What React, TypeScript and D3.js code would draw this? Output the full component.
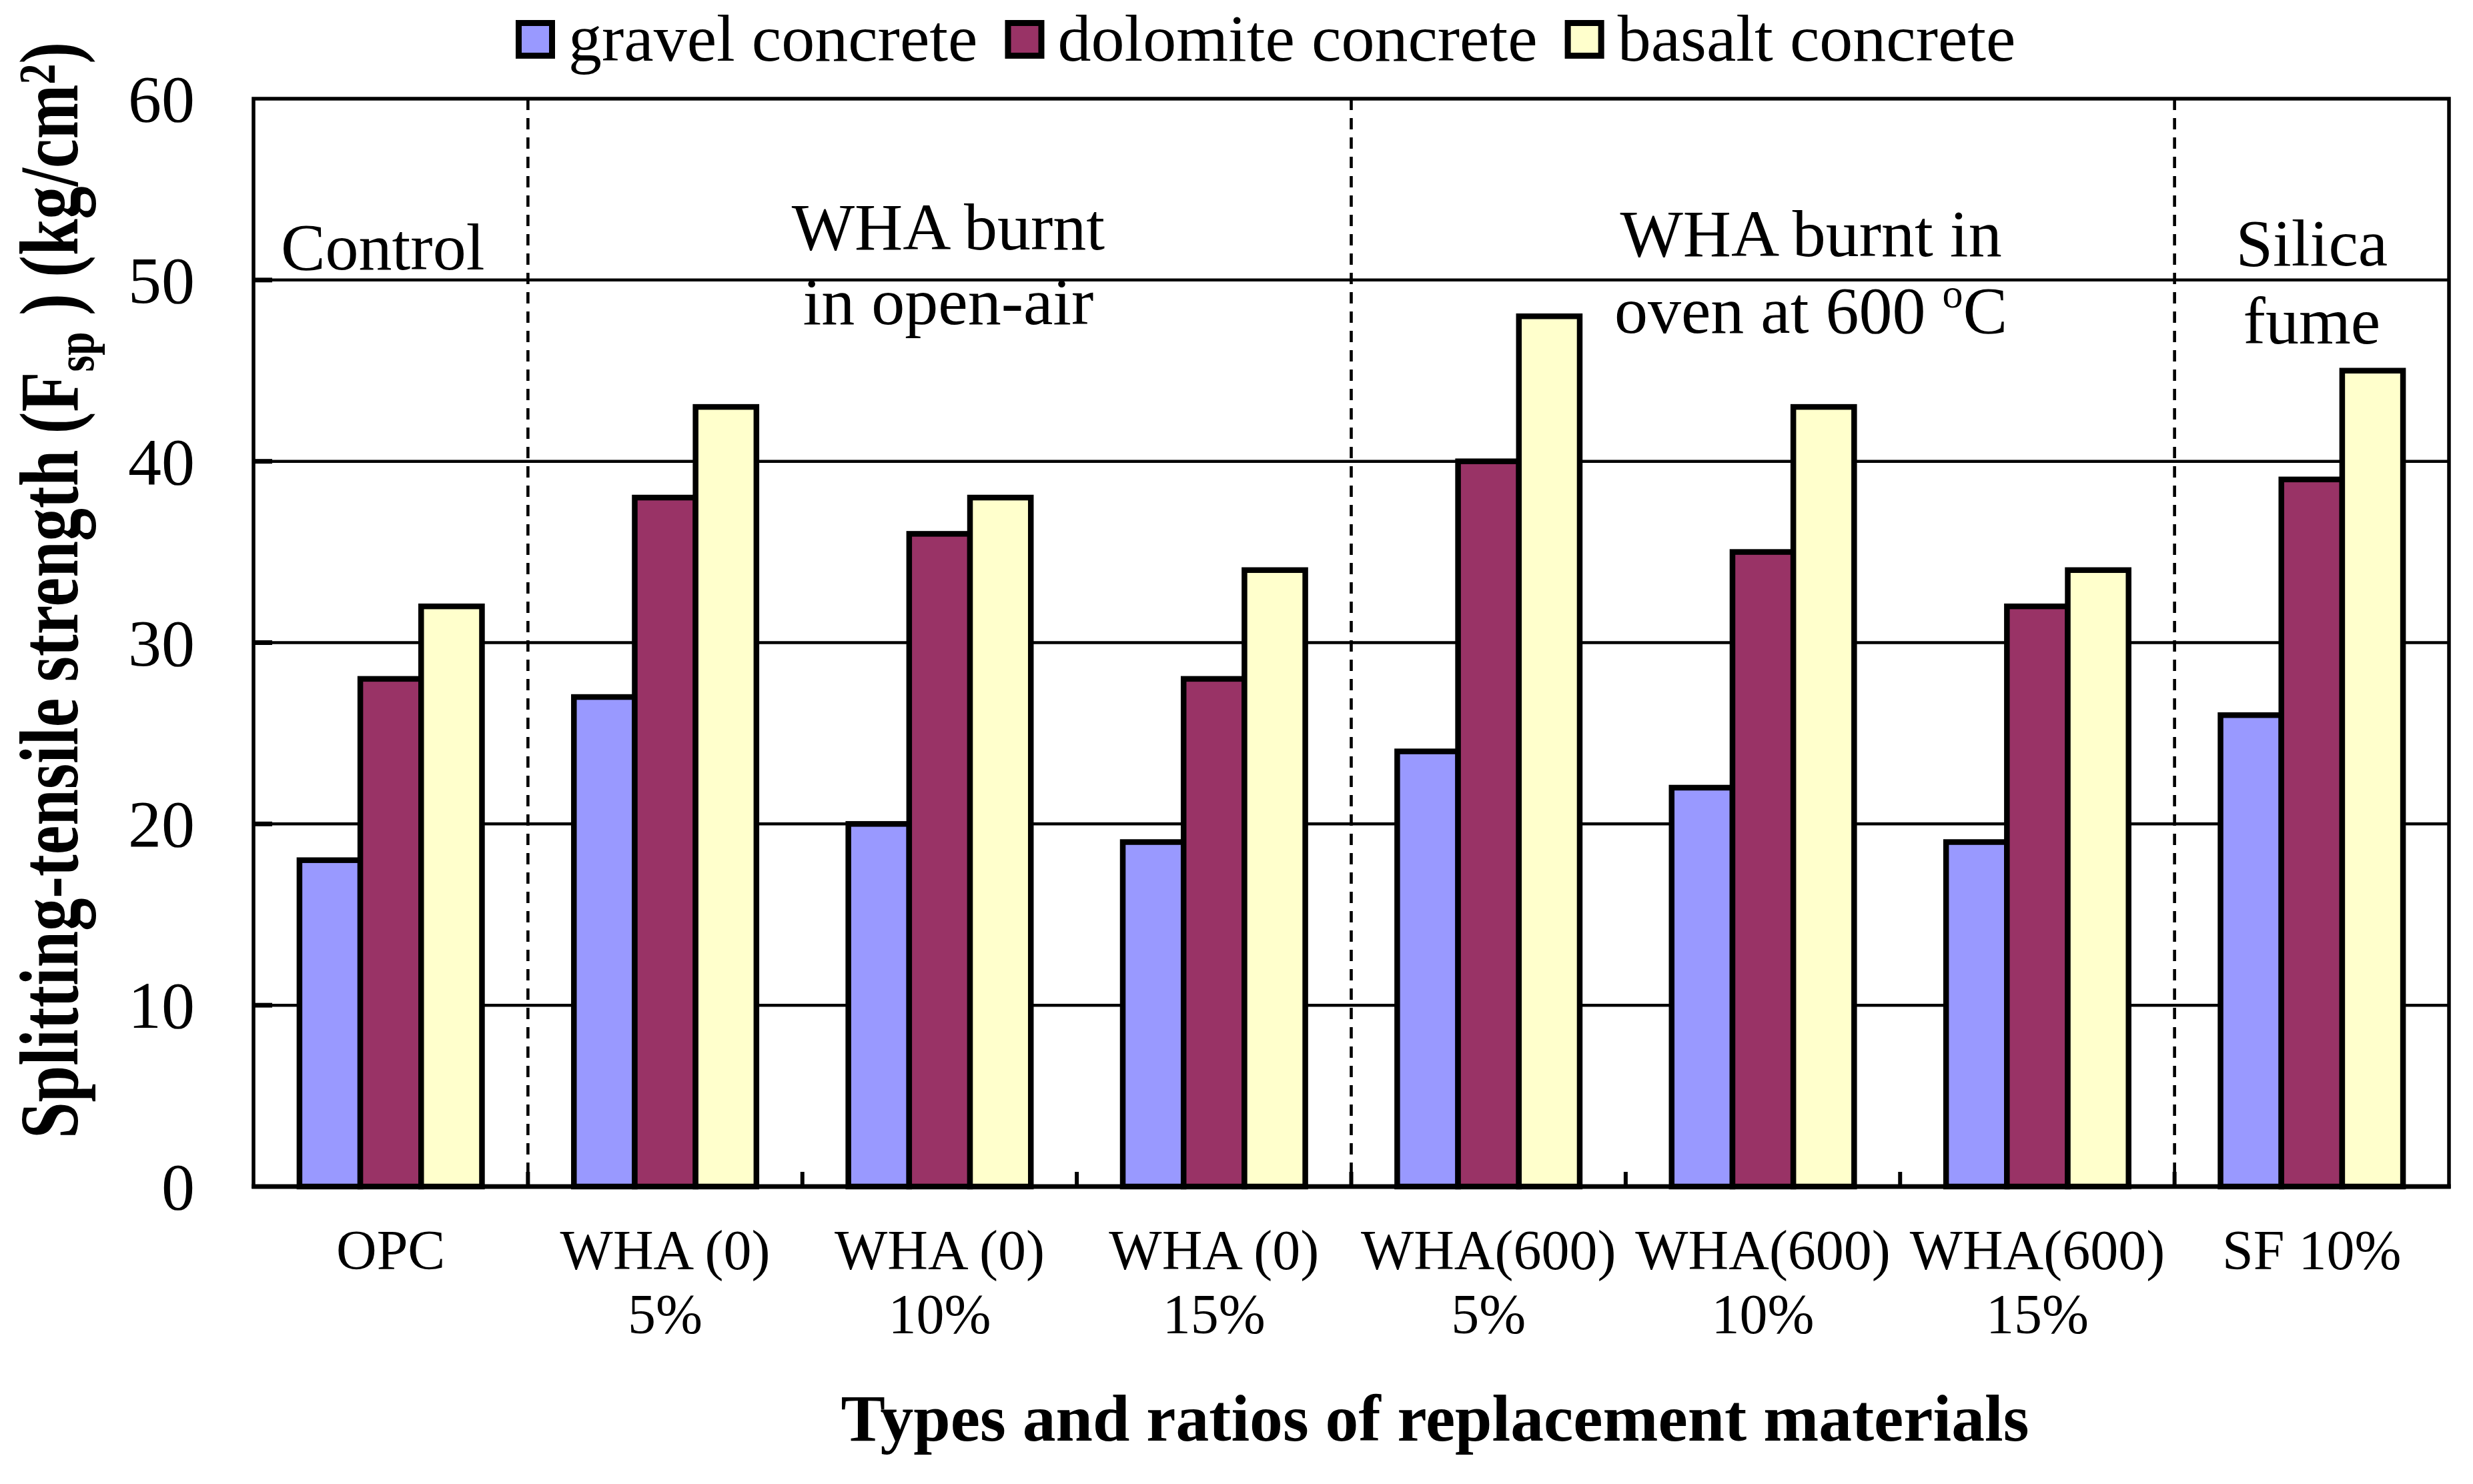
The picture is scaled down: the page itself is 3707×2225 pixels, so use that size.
import { useEffect, useRef } from "react"
import * as d3 from "d3"

// chart data
const categoryLine1 = ["OPC", "WHA (0)", "WHA (0)", "WHA (0)", "WHA(600)", "WHA(600)", "WHA(600)", "SF 10%"]
const categoryLine2 = ["", "5%", "10%", "15%", "5%", "10%", "15%", ""]
const seriesNames = ["gravel concrete", "dolomite concrete", "basalt concrete"]
const gravel = [18, 27, 20, 19, 24, 22, 19, 26]
const dolomite = [28, 38, 36, 28, 40, 35, 32, 39]
const basalt = [32, 43, 38, 34, 48, 43, 34, 45]
const yTicks = [0, 10, 20, 30, 40, 50, 60]
// section boundaries sit before these category indices
const sectionStarts = [1, 4, 7]
// section captions: centre category, lines, baseline values (in data units)
const sectionCaptions = [
  { at: 0, dx: -12, lines: ["Control"], levels: [50.6] },
  { at: 2, dx: 13, lines: ["WHA burnt", "in open-air"], levels: [51.7, 47.55] },
  { at: 5, dx: 72, lines: ["WHA burnt in", "oven at 600 |oC"], levels: [51.3, 47.1] },
  { at: 7, dx: 0, lines: ["Silica", "fume"], levels: [50.8, 46.5] },
]

const colors = ["#9999ff", "#993366", "#ffffcc"]
const FONT = "'Liberation Serif', 'Times New Roman', serif"

export default function App() {
  const svgRef = useRef<SVGSVGElement>(null)

  useEffect(() => {
    if (!svgRef.current) return
    const width = 3707
    const height = 2225
    const margin = { top: 148, right: 36, bottom: 446, left: 380 }
    const left = margin.left
    const right = width - margin.right
    const top = margin.top
    const bottom = height - margin.bottom

    const svg = d3.select(svgRef.current).attr("width", width).attr("height", height)
    svg.selectAll("*").remove()

    const series = [gravel, dolomite, basalt]
    const cats = categoryLine1.map((_, i) => `c${i}`)

    const x0 = d3.scaleBand<string>().domain(cats).range([left, right]).paddingInner(0.335).paddingOuter(0.1675)
    const x1 = d3.scaleBand<number>().domain([0, 1, 2]).range([0, x0.bandwidth()])
    const y = d3.scaleLinear().domain([0, 60]).range([bottom, top])
    const gap = (x0.step() - x0.bandwidth()) / 2
    const boundary = (i: number) => (x0(cats[i]) as number) - gap

    // gridlines
    svg.append("g")
      .selectAll("line")
      .data(yTicks.filter((t) => t > 0 && t < 60))
      .join("line")
      .attr("x1", left).attr("x2", right)
      .attr("y1", (d) => y(d)).attr("y2", (d) => y(d))
      .attr("stroke", "#000").attr("stroke-width", 4.5)

    // dashed separators
    svg.append("g")
      .selectAll("line")
      .data(sectionStarts)
      .join("line")
      .attr("x1", (d) => boundary(d)).attr("x2", (d) => boundary(d))
      .attr("y1", top).attr("y2", bottom)
      .attr("stroke", "#000").attr("stroke-width", 4.6)
      .attr("stroke-dasharray", "17,12")

    // y ticks (inside)
    svg.append("g")
      .selectAll("line")
      .data(yTicks.filter((t) => t > 0 && t < 60))
      .join("line")
      .attr("x1", left).attr("x2", left + 28)
      .attr("y1", (d) => y(d)).attr("y2", (d) => y(d))
      .attr("stroke", "#000").attr("stroke-width", 7)

    // x ticks (inside) at category boundaries
    svg.append("g")
      .selectAll("line")
      .data(d3.range(1, cats.length))
      .join("line")
      .attr("x1", (d) => boundary(d)).attr("x2", (d) => boundary(d))
      .attr("y1", bottom).attr("y2", bottom - 22)
      .attr("stroke", "#000").attr("stroke-width", 6)

    // frame
    svg.append("rect")
      .attr("x", left).attr("y", top)
      .attr("width", right - left).attr("height", bottom - top)
      .attr("fill", "none").attr("stroke", "#000").attr("stroke-width", 5.5)

    // bars
    const groups = svg.append("g")
      .selectAll("g")
      .data(cats)
      .join("g")
      .attr("transform", (d) => `translate(${x0(d)},0)`)
    groups.selectAll("rect")
      .data((_, i) => series.map((s, k) => ({ k, v: s[i] })))
      .join("rect")
      .attr("x", (d) => x1(d.k) as number)
      .attr("y", (d) => y(d.v))
      .attr("width", x1.bandwidth())
      .attr("height", (d) => y(0) - y(d.v))
      .attr("fill", (d) => colors[d.k])
      .attr("stroke", "#000")
      .attr("stroke-width", 8.5)

    // bottom axis line
    svg.append("line")
      .attr("x1", left - 2.75).attr("x2", right + 2.75)
      .attr("y1", bottom).attr("y2", bottom)
      .attr("stroke", "#000").attr("stroke-width", 7)

    // y tick labels
    svg.append("g")
      .selectAll("text")
      .data(yTicks)
      .join("text")
      .attr("x", 292)
      .attr("y", (d) => y(d))
      .attr("dy", "0.34em")
      .attr("text-anchor", "end")
      .attr("font-family", FONT)
      .attr("font-size", 100)
      .text((d) => d)

    // category labels
    const catLabels = svg.append("g")
      .attr("font-family", FONT).attr("font-size", 84).attr("text-anchor", "middle")
    cats.forEach((c, i) => {
      const cx = (x0(c) as number) + x0.bandwidth() / 2
      catLabels.append("text").attr("x", cx).attr("y", bottom + 124).text(categoryLine1[i])
      if (categoryLine2[i]) catLabels.append("text").attr("x", cx).attr("y", bottom + 220).text(categoryLine2[i])
    })

    // section captions
    const capG = svg.append("g")
      .attr("font-family", FONT).attr("font-size", 100).attr("text-anchor", "middle")
    sectionCaptions.forEach((s) => {
      const cx = (x0(cats[s.at]) as number) + x0.bandwidth() / 2 + s.dx
      s.lines.forEach((line, j) => {
        const t = capG.append("text").attr("x", cx).attr("y", y(s.levels[j]))
        if (line.includes("|")) {
          const [a, b] = line.split("|")
          t.append("tspan").text(a)
          t.append("tspan").attr("font-size", 62).attr("dy", -38).text(b.slice(0, 1))
          t.append("tspan").attr("dy", 38).text(b.slice(1))
        } else {
          t.text(line)
        }
      })
    })

    // legend
    const legend = svg.append("g").attr("font-family", FONT).attr("font-size", 100)
    let lx = 777.5
    seriesNames.forEach((name, k) => {
      legend.append("rect")
        .attr("x", lx).attr("y", 34.5).attr("width", 50).attr("height", 49)
        .attr("fill", colors[k]).attr("stroke", "#000").attr("stroke-width", 9)
      const t = legend.append("text").attr("x", lx + 74.5).attr("y", 91).text(name)
      const w = (t.node() as SVGTextElement).getComputedTextLength()
      lx = lx + 74.5 + w + 45.5
    })

    // x axis title
    svg.append("text")
      .attr("x", 2151).attr("y", 2160)
      .attr("text-anchor", "middle")
      .attr("font-family", FONT).attr("font-weight", "bold").attr("font-size", 100)
      .attr("textLength", 1781).attr("lengthAdjust", "spacingAndGlyphs")
      .text("Types and ratios of replacement materials")

    // y axis title
    const yt = svg.append("text")
      .attr("transform", "translate(116,885) rotate(-90)")
      .attr("text-anchor", "middle")
      .attr("font-family", FONT).attr("font-weight", "bold").attr("font-size", 124)
      .attr("textLength", 1644).attr("lengthAdjust", "spacingAndGlyphs")
    yt.append("tspan").text("Splitting-tensile strength (F")
    yt.append("tspan").attr("font-size", 80).attr("dy", 24).text("sp")
    yt.append("tspan").attr("dy", -24).text(" ) (kg/cm")
    yt.append("tspan").attr("font-size", 78).attr("dy", -34).text("2")
    yt.append("tspan").attr("dy", 34).text(")")
  }, [])

  return <svg ref={svgRef} style={{ position: "absolute", left: 0, top: 0, background: "#fff" }} />
}
